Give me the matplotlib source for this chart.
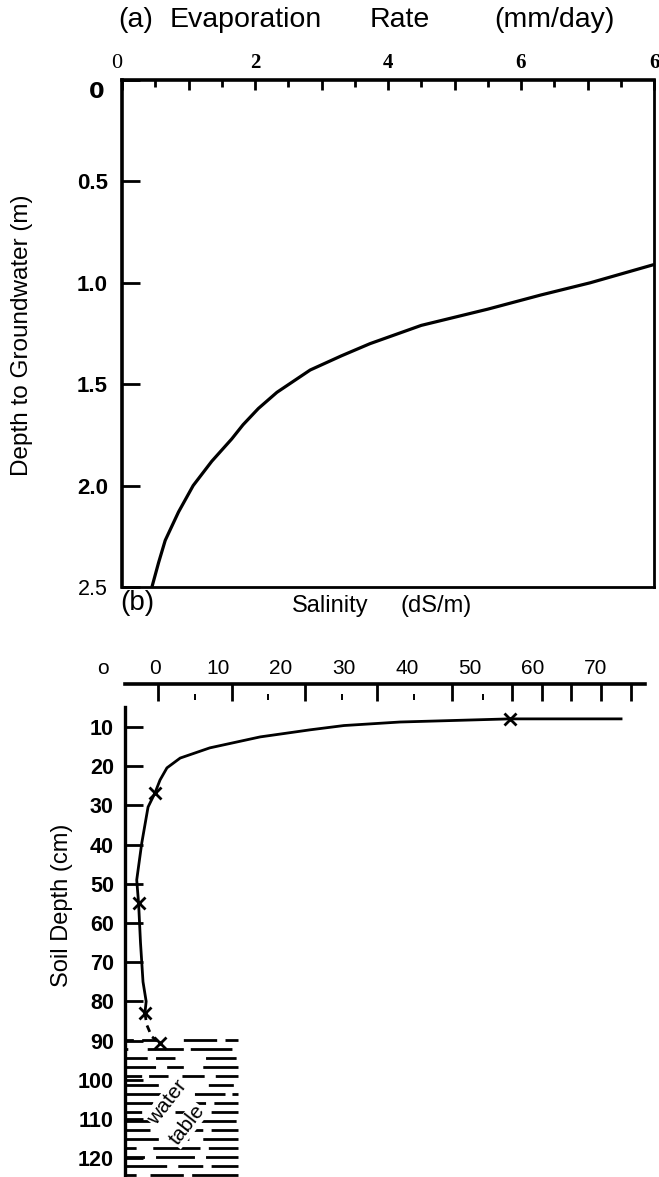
import matplotlib
matplotlib.use("Agg")
import matplotlib.pyplot as plt
import numpy as np

plt.rcParams['font.family'] = ['Liberation Sans', 'DejaVu Sans']
plt.rcParams['lines.scale_dashes'] = False

# ---------------- data ----------------
# Panel (a): evaporation rate (mm/day) vs depth to groundwater (m)
evap_rate = [0.45, 0.55, 0.65, 0.85, 1.07, 1.35, 1.65, 1.82, 2.05, 2.33, 2.83, 3.30, 3.73, 4.50, 5.50, 6.30, 7.04, 8.00]
gw_depth = [2.50, 2.38, 2.27, 2.13, 2.00, 1.88, 1.77, 1.70, 1.62, 1.54, 1.43, 1.36, 1.30, 1.21, 1.13, 1.06, 1.00, 0.91]
a_xticks = [0, 1, 2, 3, 4, 5, 6, 7, 8]
a_xticklabels = ['0', '', '2', '', '4', '', '6', '', '6']
a_yticks = [0, 0.5, 1.0, 1.5, 2.0, 2.5]
a_yticklabels = ['', '0.5', '1.0', '1.5', '2.0', '2.5']

# Panel (b): salinity profile (dS/m) vs soil depth (cm)
prof_sal = [74.0, 56.3, 38.9, 30.0, 24.6, 16.7, 8.7, 4.0, 1.9, 0.8, 0.0, -1.1, -2.1, -2.9, -2.6, -2.3, -1.9, -1.4, -1.6]
prof_depth = [7.9, 7.9, 8.7, 9.6, 10.7, 12.5, 15.3, 17.9, 20.4, 23.5, 26.8, 30.4, 39.6, 49.0, 55.0, 65.0, 75.0, 80.0, 83.0]
dash_sal = [-1.6, -1.3, -0.5, 0.8]
dash_depth = [83.0, 86.0, 89.0, 90.6]
meas_sal = [56.3, 0.0, -2.5, -1.6, 0.8]
meas_depth = [7.9, 26.8, 54.9, 83.0, 90.6]
b_xticks = [0, 10, 20, 30, 40, 50, 60, 70]
b_xticklabels = ['0', '10', '20', '30', '40', '50', '60', '70']
b_tickmarks = [0.5, 12.2, 23.8, 35.2, 47.1, 56.7, 61.4, 66.0, 70.8, 75.6]
b_minormarks = [6.3, 17.9, 29.7, 41.1, 52.1]
b_yticks = [10, 20, 30, 40, 50, 60, 70, 80, 90, 100, 110, 120]
water_table_top = 89.8
water_row_step = 2.3
water_rows = 16
water_right = 13.2

# ---------------- figure ----------------
W, H = 659, 1177
fig = plt.figure(figsize=(W / 100, H / 100), dpi=100)

def fx(px):
    return px / W

def fy(py):
    return 1 - py / H

# ----- Panel (a) -----
ax1 = fig.add_axes([fx(122), fy(587), fx(654) - fx(122), fy(80) - fy(587)])
ax1.plot(evap_rate, gw_depth, color='black', lw=2.3, solid_capstyle='butt',
         solid_joinstyle='round')
ax1.set_xlim(0, 8)
ax1.set_ylim(2.5, 0)
ax1.xaxis.tick_top()
ax1.set_xticks(a_xticks)
ax1.set_xticklabels(a_xticklabels, fontfamily='Liberation Serif', fontweight='bold', fontsize=15)
ax1.set_xticks(np.arange(0.5, 8, 1.0), minor=True)
ax1.tick_params(axis='x', which='major', direction='in', length=7, width=2, pad=5)
ax1.tick_params(axis='x', which='minor', direction='in', length=5, width=2)
lbl0 = ax1.get_xticklabels()[0]
lbl0.set_fontweight('normal')
lbl0.set_fontsize(16)
lbl0.set_horizontalalignment('right')
ax1.set_yticks(a_yticks)
ax1.set_yticklabels(a_yticklabels, fontweight='bold', fontsize=16)
ax1.tick_params(axis='y', which='major', direction='in', length=13, width=2, pad=10)
ylbls = ax1.get_yticklabels()
ylbls[-1].set_fontweight('normal')
ylbls[-1].set_fontsize(15.5)
for s in ['left', 'top']:
    ax1.spines[s].set_linewidth(2.6)
for s in ['right', 'bottom']:
    ax1.spines[s].set_linewidth(2.0)
fig.text(fx(97), fy(92), '0', fontsize=16, fontweight='bold', fontfamily='DejaVu Sans',
         ha='center', va='center')

title_words = ['(a)', 'Evaporation', 'Rate', '(mm/day)']
title_left_px = [118, 170, 370, 494]
for word, xl in zip(title_words, title_left_px):
    fig.text(fx(xl), fy(20), word, fontsize=20.5, ha='left', va='center')
fig.text(fx(22), fy(335), 'Depth to Groundwater (m)', fontsize=17.5, rotation=90,
         ha='center', va='center')

# ----- Panel (b) -----
ax2 = fig.add_axes([fx(125), fy(1177), fx(645) - fx(125), fy(684) - fy(1177)])
ax2.set_xlim(-4.76, 77.8)
ax2.set_ylim(124.8, -1.0)
ax2.plot(prof_sal, prof_depth, color='black', lw=2.0, solid_joinstyle='round')
ax2.plot(dash_sal, dash_depth, color='black', lw=2.0, ls=(0, (5, 4)))
ax2.plot(meas_sal, meas_depth, ls='none', marker='x', ms=9, mew=2.0, color='black',
         zorder=5)

ax2.xaxis.tick_top()
ax2.set_xticks(b_xticks)
ax2.set_xticklabels(b_xticklabels, fontsize=15)
ax2.tick_params(axis='x', which='major', length=0, pad=4)
ax2.set_xticks(b_tickmarks, minor=True)
ax2.tick_params(axis='x', which='minor', direction='in', length=12, width=2)
ax2.plot(b_minormarks, [2.3] * len(b_minormarks), ls='none', marker='|', ms=5, mew=1.4,
         color='black', clip_on=False)

ax2.set_yticks(b_yticks)
ax2.set_yticklabels([str(v) for v in b_yticks], fontweight='bold', fontsize=15.5)
ax2.tick_params(axis='y', which='major', direction='in', length=13, width=2, pad=8)
ax2.spines['right'].set_visible(False)
ax2.spines['bottom'].set_visible(False)
ax2.spines['top'].set_linewidth(2.6)
ax2.spines['left'].set_linewidth(2.4)
ax2.spines['left'].set_bounds(4.8, 124.8)

# water table hatching
patterns = [
    (0, (6, 6, 10, 20, 24, 6, 22, 6)),
    (2, (4, 14, 26, 5, 30, 6)),
    (0, (16, 6, 14, 22, 22, 6)),
    (0, (22, 8, 12, 14, 28, 5)),
    (0, (12, 5, 14, 10, 16, 8, 26, 5)),
    (0, (24, 8, 10, 18, 18, 5)),
    (0, (26, 24, 22, 5, 10, 6)),
    (0, (20, 30, 8, 6, 22, 5)),
    (0, (12, 24, 10, 16, 26, 5)),
    (0, (26, 26, 28, 5)),
    (0, (18, 30, 8, 6, 24, 5)),
    (0, (24, 8, 14, 10, 30, 5)),
    (0, (8, 12, 34, 6, 26, 5)),
    (0, (14, 8, 28, 8, 24, 5)),
    (0, (30, 8, 18, 6, 24, 5)),
    (0, (8, 10, 24, 6, 34, 5)),
]
x0 = ax2.get_xlim()[0]
for k in range(water_rows):
    d = water_table_top + water_row_step * k
    ax2.plot([x0, water_right], [d, d], color='black', lw=2.0,
             ls=patterns[k % len(patterns)], dash_capstyle='butt')
ax2.text(1.9, 105.7, 'water', rotation=52, fontsize=15, ha='center', va='center',
         bbox=dict(facecolor='white', edgecolor='none', pad=0.5), zorder=4)
ax2.text(5.1, 111.5, 'table', rotation=52, fontsize=15, ha='center', va='center',
         bbox=dict(facecolor='white', edgecolor='none', pad=0.5), zorder=4)

fig.text(fx(103), fy(669), 'o', fontsize=15, ha='center', va='center')
fig.text(fx(137), fy(603), '(b)', fontsize=20, ha='center', va='center')
fig.text(fx(292), fy(606), 'Salinity', fontsize=17, ha='left', va='center')
fig.text(fx(400), fy(606), '(dS/m)', fontsize=17, ha='left', va='center')
fig.text(fx(62), fy(905), 'Soil Depth (cm)', fontsize=17, rotation=90,
         ha='center', va='center')

fig.savefig('out.png', dpi=100)
